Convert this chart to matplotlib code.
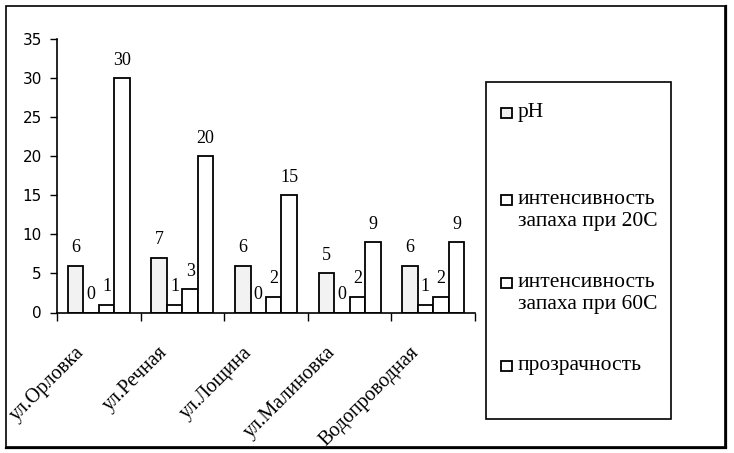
import matplotlib
matplotlib.use('Agg')
import matplotlib.pyplot as plt
from matplotlib.patches import Rectangle
from matplotlib.lines import Line2D
from matplotlib.transforms import ScaledTranslation

streets = ['ул.Орловка', 'ул.Речная', 'ул.Лощина', 'ул.Малиновка', 'Водопроводная']
series_names = ['рН', 'интенсивность\nзапаха при 20С', 'интенсивность\nзапаха при 60С', 'прозрачность']
ph = [6, 7, 6, 5, 6]
smell_20 = [0, 1, 0, 0, 1]
smell_60 = [1, 3, 2, 2, 2]
clarity = [30, 20, 15, 9, 9]
y_ticks = [0, 5, 10, 15, 20, 25, 30, 35]

SERIF = 'Liberation Serif'
fills = ['#f2f2f2', 'white', 'white', 'white']

W, H = 734, 453
fig = plt.figure(figsize=(W / 100, H / 100), dpi=100)

def fx(px):
    return px / W

def fy(py):
    return 1 - py / H

ax = fig.add_axes([fx(57), fy(312.5), fx(475) - fx(57), fy(39) - fy(312.5)])

bar_w = 0.185
offsets = [-1.5, -0.5, 0.5, 1.5]
for k, vals in enumerate([ph, smell_20, smell_60, clarity]):
    xs = [i + 0.5 + offsets[k] * bar_w for i in range(len(streets))]
    ax.bar(xs, vals, width=bar_w, color=fills[k], edgecolor='black', linewidth=1.3)
    for x, v in zip(xs, vals):
        ax.annotate(str(v), (x, v), xytext=(0, 13), textcoords='offset points',
                    ha='center', va='center', fontsize=13, family=SERIF)

ax.set_xlim(0, len(streets))
ax.set_ylim(0, 35)
ax.set_yticks(y_ticks)
ax.tick_params(axis='y', length=5, width=1, labelsize=11, pad=6)
for lbl in ax.get_yticklabels():
    lbl.set_family('DejaVu Sans')

ax.set_xticks(range(len(streets) + 1))
ax.set_xticklabels([])
ax.tick_params(axis='x', which='major', length=6, width=1, direction='out')
ax.set_xticks([i + 0.5 for i in range(len(streets))], minor=True)
ax.set_xticklabels(streets, minor=True, rotation=45, ha='right', va='top',
                   rotation_mode='anchor', fontsize=14.5, family=SERIF)
ax.tick_params(axis='x', which='minor', length=0, pad=22)
shift = ScaledTranslation(-24 / 100, 0, fig.dpi_scale_trans)
for lbl in ax.get_xticklabels(minor=True):
    lbl.set_transform(lbl.get_transform() + shift)

for s in ['top', 'right']:
    ax.spines[s].set_visible(False)
for s in ['left', 'bottom']:
    ax.spines[s].set_linewidth(1.2)

# legend box
fig.patches.append(Rectangle((fx(486), fy(419)), fx(671) - fx(486), fy(81.5) - fy(419),
                             transform=fig.transFigure, fill=False,
                             edgecolor='black', linewidth=1.2))
leg_y = [113, 200, 283, 366]
for name, fc, yy in zip(series_names, fills, leg_y):
    fig.patches.append(Rectangle((fx(501), fy(yy + 5)), fx(11), fy(0) - fy(10),
                                 transform=fig.transFigure, facecolor=fc,
                                 edgecolor='black', linewidth=1.3))
    fig.text(fx(518), fy(yy - 10), name, ha='left', va='top', fontsize=15.5,
             family=SERIF, linespacing=1.25)

# outer frame
fig.patches.append(Rectangle((fx(6), fy(447)), fx(725) - fx(6), fy(6) - fy(447),
                             transform=fig.transFigure, fill=False,
                             edgecolor='black', linewidth=1.2))
fig.lines.append(Line2D([fx(726), fx(726)], [fy(447), fy(6)], transform=fig.transFigure,
                        color='black', linewidth=1.6))
fig.lines.append(Line2D([fx(6), fx(726)], [fy(448), fy(448)], transform=fig.transFigure,
                        color='black', linewidth=1.6))

fig.savefig('out.png', dpi=100)
